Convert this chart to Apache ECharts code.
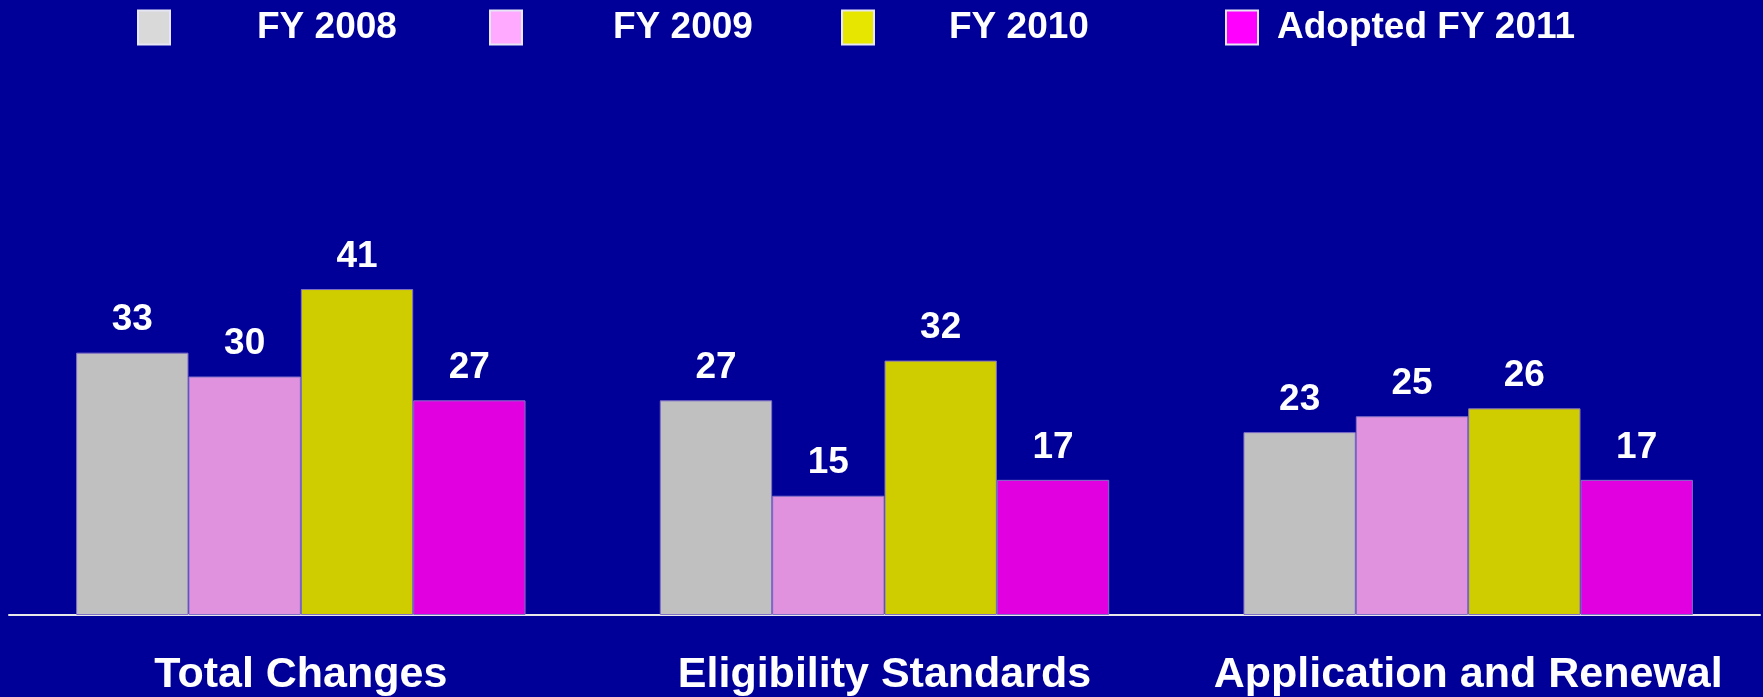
<!DOCTYPE html>
<html>
<head>
<meta charset="utf-8">
<script src="https://cdn.jsdelivr.net/npm/echarts@6/dist/echarts.min.js"></script>
<style>
  html, body { margin: 0; padding: 0; background: #000099; }
  #chart { width: 1763px; height: 697px; }
</style>
</head>
<body>
<div id="chart"></div>
<script>
var categories = ['Total Changes', 'Eligibility Standards', 'Application and Renewal'];
var seriesNames = ['FY 2008', 'FY 2009', 'FY 2010', 'Adopted FY 2011'];
var fy2008 = [33, 27, 23];
var fy2009 = [30, 15, 25];
var fy2010 = [41, 32, 26];
var fy2011 = [27, 17, 17];

var barColors = ['#C0C0C0', '#E092DE', '#CFCC00', '#E000E0'];
var legendColors = ['#D9D9D9', '#FFAAFF', '#E6E600', '#FF00FF'];
// legend slots sit at uneven spots in the original, so one legend per series
var legendLeft = [137, 489, 841, 1225];
var legendTextPad = [82, 86, 70, 14];

var font = '"Liberation Sans", Arial, sans-serif';

var dom = document.getElementById('chart');
var myChart = echarts.init(dom, null, { renderer: 'canvas' });

var values = [fy2008, fy2009, fy2010, fy2011];

var option = {
  backgroundColor: '#000099',
  animation: false,
  legend: seriesNames.map(function (name, i) {
    return {
      left: legendLeft[i],
      top: 9,
      padding: 0,
      itemWidth: 32,
      itemHeight: 34,
      icon: 'rect',
      data: [{
        name: name,
        itemStyle: { color: legendColors[i], borderColor: '#E6E6F5', borderWidth: 2 }
      }],
      textStyle: {
        color: '#fff',
        fontSize: 37,
        fontWeight: 'bold',
        fontFamily: font,
        padding: [6, 0, 0, legendTextPad[i]]
      }
    };
  }),
  grid: { left: 9, right: 3, top: 138, bottom: 82 },
  xAxis: {
    type: 'category',
    data: categories,
    axisLine: { show: true, lineStyle: { color: '#E8E8E8', width: 2 } },
    axisTick: { show: false },
    axisLabel: {
      color: '#fff',
      fontSize: 43,
      fontWeight: 'bold',
      fontFamily: font,
      margin: 39,
      interval: 0
    }
  },
  yAxis: {
    type: 'value',
    min: 0,
    max: 60,
    show: false,
    splitLine: { show: false }
  },
  series: seriesNames.map(function (name, i) {
    return {
      name: name,
      type: 'bar',
      data: values[i],
      barGap: '0%',
      barCategoryGap: '23%',
      itemStyle: { color: barColors[i], borderColor: '#8070C8', borderWidth: 1 },
      label: {
        show: true,
        position: 'top',
        distance: 14,
        color: '#fff',
        fontSize: 37,
        fontWeight: 'bold',
        fontFamily: font
      }
    };
  })
};

myChart.setOption(option);
window.addEventListener('resize', myChart.resize);
</script>
</body>
</html>
